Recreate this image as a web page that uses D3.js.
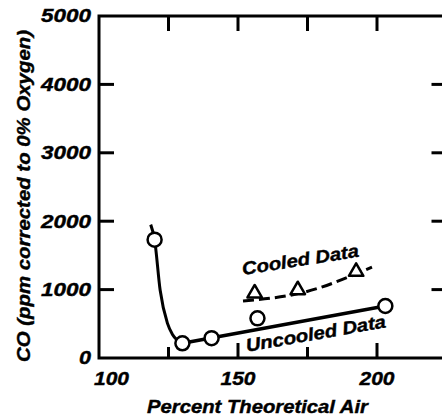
<!DOCTYPE html>
<html>
<head>
<meta charset="utf-8">
<script src="https://cdn.jsdelivr.net/npm/d3@7"></script>
<style>
  body { margin: 0; background: #fff; }
  svg text { font-family: "Liberation Sans", Arial, sans-serif; font-weight: bold; font-style: italic; fill: #000; stroke: #000; stroke-width: 0.4px; }
</style>
</head>
<body>
<div id="chart"></div>
<script>
// data
const xTickLabels = [100, 150, 200];
const xTicks = [125, 150, 175, 200];
const yTickLabels = [0, 1000, 2000, 3000, 4000, 5000];
const yTicks = [1000, 2000, 3000, 4000];

// uncooled points (circles)
const uncooledX = [120, 130, 140.5, 157, 203];
const uncooledY = [1730, 215, 290, 580, 760];
// hand drawn curve through the uncooled data
const uncooledDropX = [118.6, 120, 122, 124.6, 126.5, 130];
const uncooledDropY = [1950, 1730, 990, 510, 340, 215];
const uncooledFitX = [130, 203];
const uncooledFitY = [215, 760];

// cooled points (triangles) and dashed fit
const cooledX = [156, 171.5, 192.5];
const cooledY = [946, 994, 1262];
const cooledFitX = [151.8, 174.1, 198.2];
const cooledFitY = [833, 965, 1330];

const W = 442, H = 417;
const svg = d3.select("#chart").append("svg")
  .attr("width", W).attr("height", H);

var x = d3.scaleLinear().domain([100, 225]).range([99, 99 + 125 * 2.78]);
var y = d3.scaleLinear().domain([0, 5000]).range([358, 16]);

const x0 = x(100), x1 = x(225), y0 = y(0), y1 = y(5000);
const TICK = 15;

// frame
var frame = svg.append("g").attr("stroke", "#000").attr("stroke-width", 3).attr("fill", "none");
frame.append("path")
  .attr("d", `M${x0},${y1}V${y0}H${x1}V${y1}Z`)
  .attr("stroke-linejoin", "miter");

// inner ticks, all four sides
frame.selectAll(".xb").data(xTicks).enter().append("line")
  .attr("x1", d => x(d)).attr("x2", d => x(d))
  .attr("y1", y0).attr("y2", d => y0 - (d % 50 ? 11 : TICK));
frame.selectAll(".xt").data(xTicks).enter().append("line")
  .attr("x1", d => x(d)).attr("x2", d => x(d))
  .attr("y1", y1).attr("y2", y1 + TICK);
frame.selectAll(".yl").data(yTicks).enter().append("line")
  .attr("x1", x0).attr("x2", x0 + TICK)
  .attr("y1", d => y(d)).attr("y2", d => y(d));
frame.selectAll(".yr").data(yTicks).enter().append("line")
  .attr("x1", x1).attr("x2", x1 - TICK)
  .attr("y1", d => y(d)).attr("y2", d => y(d));

// tick labels
svg.selectAll(".ylab").data(yTickLabels).enter().append("text")
  .attr("x", 91).attr("y", d => y(d))
  .attr("dy", "0.36em")
  .attr("text-anchor", "end")
  .attr("font-size", 18)
  .attr("textLength", d => d == 0 ? 12 : 50)
  .attr("lengthAdjust", "spacingAndGlyphs")
  .text(d => d);

svg.selectAll(".xlab").data(xTickLabels).enter().append("text")
  .attr("x", d => Math.max(x(d), x0 + 17.5 - 5))
  .attr("y", 385)
  .attr("text-anchor", "middle")
  .attr("font-size", 18)
  .attr("textLength", 35)
  .attr("lengthAdjust", "spacingAndGlyphs")
  .text(d => d);

// axis titles
svg.append("text")
  .attr("x", 257.5).attr("y", 413)
  .attr("text-anchor", "middle")
  .attr("font-size", 18)
  .attr("textLength", 221)
  .attr("lengthAdjust", "spacingAndGlyphs")
  .text("Percent Theoretical Air");

svg.append("text")
  .attr("transform", "translate(30,196) rotate(-90)")
  .attr("text-anchor", "middle")
  .attr("font-size", 18)
  .attr("textLength", 332)
  .attr("lengthAdjust", "spacingAndGlyphs")
  .text("CO (ppm corrected to 0% Oxygen)");

// lines
var lineMono = d3.line().x(d => x(d[0])).y(d => y(d[1])).curve(d3.curveMonotoneX);
var lineStraight = d3.line().x(d => x(d[0])).y(d => y(d[1]));

svg.append("path")
  .attr("d", lineMono(d3.zip(uncooledDropX, uncooledDropY)))
  .attr("fill", "none").attr("stroke", "#000").attr("stroke-width", 3);
svg.append("path")
  .attr("d", lineStraight(d3.zip(uncooledFitX, uncooledFitY)))
  .attr("fill", "none").attr("stroke", "#000").attr("stroke-width", 3.5);
svg.append("path")
  .attr("d", lineMono(d3.zip(cooledFitX, cooledFitY)))
  .attr("fill", "none").attr("stroke", "#000").attr("stroke-width", 3)
  .attr("stroke-dasharray", "11,5");

// markers
svg.selectAll(".circ").data(d3.zip(uncooledX, uncooledY)).enter().append("circle")
  .attr("cx", d => x(d[0])).attr("cy", d => y(d[1]))
  .attr("r", 7)
  .attr("fill", "#fff").attr("stroke", "#000").attr("stroke-width", 2.5);

var tri = d3.symbol().type(d3.symbolTriangle).size(90);
svg.selectAll(".tri").data(d3.zip(cooledX, cooledY)).enter().append("path")
  .attr("d", tri)
  .attr("transform", d => `translate(${x(d[0])},${y(d[1])})`)
  .attr("fill", "#fff").attr("stroke", "#000").attr("stroke-width", 2.5)
  .attr("stroke-linejoin", "round");

// series labels
svg.append("text")
  .attr("transform", `translate(${x(151.8)},${y(1213)}) rotate(-9)`)
  .attr("font-size", 18)
  .attr("textLength", 118)
  .attr("lengthAdjust", "spacingAndGlyphs")
  .text("Cooled Data");

svg.append("text")
  .attr("transform", `translate(${x(153.2)},${y(90)}) rotate(-10)`)
  .attr("font-size", 18)
  .attr("textLength", 142)
  .attr("lengthAdjust", "spacingAndGlyphs")
  .text("Uncooled Data");
</script>
</body>
</html>
